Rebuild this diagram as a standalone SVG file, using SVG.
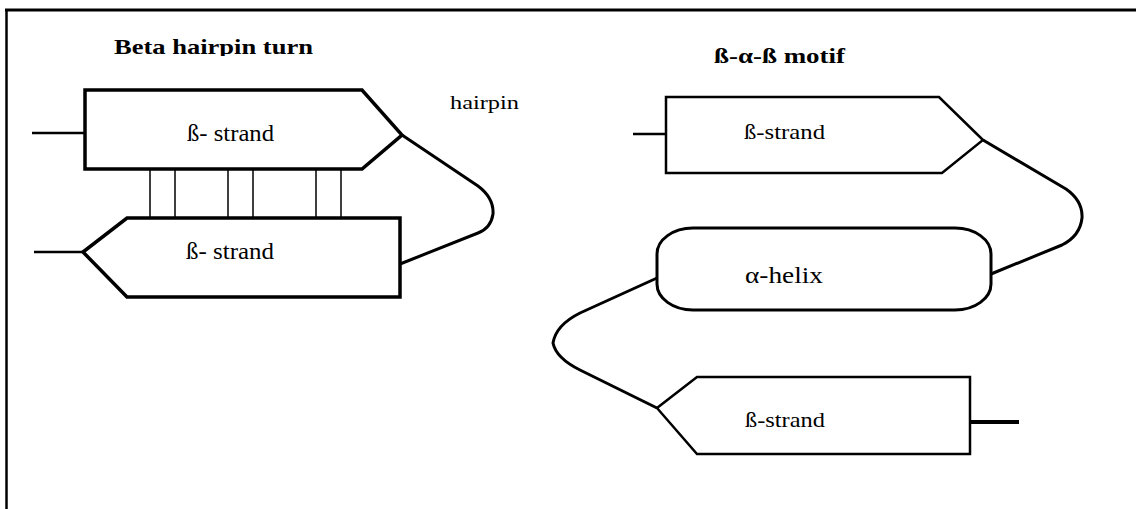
<svg xmlns="http://www.w3.org/2000/svg" width="1136" height="509" viewBox="0 0 1136 509">
  <style>
    .shape { fill: #ffffff; stroke: #000000; stroke-linejoin: miter; }
    .conn { fill: none; stroke: #000000; stroke-linecap: butt; stroke-linejoin: round; }
    text { fill: #000000; }
  </style>
  <defs>
    <clipPath id="titleClip">
      <rect x="0" y="0" width="1136" height="56"/>
    </clipPath>
  </defs>
  <rect x="0" y="0" width="1136" height="509" fill="#ffffff"/>
  <g id="frame">
    <line x1="5" y1="10" x2="1136" y2="10" stroke="#000" stroke-width="3"/>
    <line x1="6.5" y1="9" x2="6.5" y2="509" stroke="#000" stroke-width="2.5"/>
  </g>
  <g id="titles" font-family="'Liberation Serif', 'DejaVu Serif', serif" font-weight="bold">
    <text x="114" y="54" font-size="22" textLength="199" lengthAdjust="spacingAndGlyphs" clip-path="url(#titleClip)">Beta hairpin turn</text>
    <text x="714" y="63" font-size="22" textLength="131" lengthAdjust="spacingAndGlyphs">ß-α-ß motif</text>
  </g>
  <g id="connectors">
    <path class="conn" stroke-width="2.5" d="M32,133 L85,133"/>
    <path class="conn" stroke-width="2.5" d="M34,252 L83,252"/>
    <path class="conn" stroke-width="3" d="M402,135 L478,186 Q494,198 493,214 Q491,228 478,233 L400,264"/>
    <path class="conn" stroke-width="1.5" d="M150,169 V218 M175,169 V218 M228,169 V218 M253,169 V218 M316,169 V218 M341,169 V218"/>
    <path class="conn" stroke-width="2.5" d="M633,134 L666,134"/>
    <path class="conn" stroke-width="3" d="M983,140 L1066,189 Q1083,201 1082,218 Q1080,236 1062,245 L991,274"/>
    <path class="conn" stroke-width="3" d="M657,278 L580,313 Q556,325 553,343 Q556,358 580,370 L657,408"/>
    <path class="conn" stroke-width="4" d="M970,422 L1019,422"/>
  </g>
  <g id="strand-left-top" font-family="'Liberation Serif', 'DejaVu Serif', serif">
    <path class="shape" stroke-width="3.5" d="M85,90 L362,90 L402,135 L362,169 L85,169 Z"/>
    <text x="187" y="141" font-size="24" textLength="87" lengthAdjust="spacingAndGlyphs">ß- strand</text>
  </g>
  <g id="strand-left-bottom" font-family="'Liberation Serif', 'DejaVu Serif', serif">
    <path class="shape" stroke-width="3.5" d="M127,218 L400,218 L400,297 L127,297 L83,252 Z"/>
    <text x="186" y="259" font-size="24" textLength="88" lengthAdjust="spacingAndGlyphs">ß- strand</text>
  </g>
  <g id="hairpin-label" font-family="'Liberation Serif', 'DejaVu Serif', serif">
    <text x="450" y="109" font-size="18" textLength="69" lengthAdjust="spacingAndGlyphs">hairpin</text>
  </g>
  <g id="strand-right-top" font-family="'Liberation Serif', 'DejaVu Serif', serif">
    <path class="shape" stroke-width="2.5" d="M666,97 L939,97 L983,140 L942,173 L666,173 Z"/>
    <text x="744" y="139" font-size="22" textLength="81" lengthAdjust="spacingAndGlyphs">ß-strand</text>
  </g>
  <g id="alpha-helix" font-family="'Liberation Serif', 'DejaVu Serif', serif">
    <path class="shape" stroke-width="3" d="M693,228 L955,228 A36,26 0 0 1 991,254 L991,284 A36,26 0 0 1 955,310 L693,310 A36,26 0 0 1 657,284 L657,254 A36,26 0 0 1 693,228 Z"/>
    <text x="745" y="283" font-size="23" textLength="78" lengthAdjust="spacingAndGlyphs">α-helix</text>
  </g>
  <g id="strand-right-bottom" font-family="'Liberation Serif', 'DejaVu Serif', serif">
    <path class="shape" stroke-width="2.5" d="M697,377 L970,377 L970,454 L697,454 L657,408 Z"/>
    <text x="745" y="427" font-size="22" textLength="80" lengthAdjust="spacingAndGlyphs">ß-strand</text>
  </g>
</svg>
